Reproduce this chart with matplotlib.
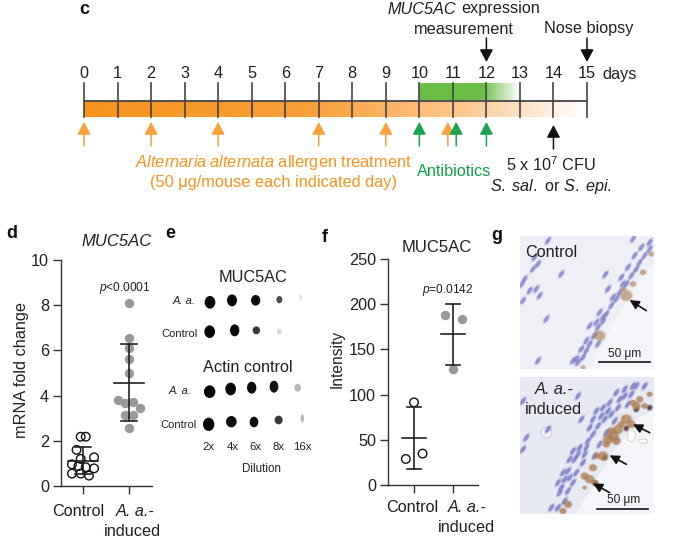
#!/usr/bin/env python3
"""MUC5AC figure: timeline (c), dot plots (d, f), dot blot (e), histology sketch (g)."""
import numpy as np
import matplotlib
matplotlib.use("Agg")
import matplotlib.pyplot as plt
from matplotlib.colors import LinearSegmentedColormap
from matplotlib.patches import Ellipse, Polygon, Rectangle

plt.rcParams["font.family"] = ["Liberation Sans", "DejaVu Sans"]
plt.rcParams["mathtext.fontset"] = "custom"
plt.rcParams["mathtext.rm"] = "Liberation Sans"
plt.rcParams["mathtext.it"] = "Liberation Sans:italic"
plt.rcParams["mathtext.bf"] = "Liberation Sans:bold"

W, H = 699, 541
ORANGE = "#f7941d"
GREEN = "#0fa14b"
TEXT = "#231f20"

# timeline
days = list(range(16))
allergen_days = [0, 2, 4, 7, 9, 10.85]
antibiotic_days = [10, 11.1, 12]
bacteria_days = [14]
measure_days = [12, 15]

# panel d
d_ctrl_off = [-0.05, 0.06, -0.14, 0.24, -0.05, -0.24, -0.10, 0.06, 0.24, -0.24, -0.05, 0.13]
d_ctrl = [2.18, 2.18, 1.60, 1.27, 1.20, 0.96, 0.88, 0.83, 0.78, 0.55, 0.55, 0.46]
d_ind_off = [0, 0, 0, 0, 0, -0.24, -0.08, 0.08, 0.24, -0.08, 0.08, 0]
d_ind = [8.08, 6.55, 6.10, 5.60, 5.00, 3.80, 3.67, 3.70, 3.44, 3.15, 3.13, 2.58]
d_means = [1.12, 4.55]
d_upper = [1.72, 6.27]
d_lower = [0.55, 2.87]

# panel f
f_ctrl_off = [0.0, -0.21, 0.22]
f_ctrl = [91.4, 28.8, 34.7]
f_ind_off = [-0.21, 0.22, 0.0]
f_ind = [188, 183.6, 128]
f_means = [52, 167]
f_upper = [86, 200]
f_lower = [17.5, 133]

# panel e: spot (x, y, width, height, grey level) in crop coordinates
blot_spots = [
    (150, 247, 32, 38, 0.02), (216, 241, 30, 36, 0.03), (287, 241, 28, 32, 0.05),
    (358, 239, 18, 22, 0.30), (422, 232, 8, 22, 0.90),
    (149, 335, 32, 38, 0.03), (224, 331, 28, 36, 0.04), (289, 331, 22, 24, 0.22),
    (358, 335, 14, 18, 0.85),
    (149, 515, 34, 38, 0.02), (212, 507, 32, 38, 0.03), (275, 503, 28, 36, 0.05),
    (342, 500, 26, 36, 0.07), (413, 503, 20, 24, 0.72),
    (146, 613, 34, 40, 0.02), (214, 605, 32, 34, 0.04), (282, 606, 26, 32, 0.05),
    (356, 600, 24, 26, 0.22), (427, 595, 10, 24, 0.72),
]
blot_rows = [("A. a.", 72, 243, True), ("Control", 57, 343, False),
             ("A. a.", 60, 513, True), ("Control", 55, 615, False)]
dilutions = ["2x", "4x", "6x", "8x", "16x"]
dilution_x = [144, 218, 285, 356, 428]

# panel g: cells picked off the two micrographs, crop coordinates
g1_blue = [(180, 385), (195, 370), (205, 350), (215, 330), (228, 305), (240, 280), (255, 262),
           (265, 240), (280, 215), (295, 195), (305, 175), (325, 150), (340, 125), (355, 105),
           (365, 85), (380, 65), (395, 45), (370, 40), (350, 65), (330, 100), (310, 130),
           (270, 165), (245, 235), (215, 275), (190, 345), (165, 380), (395, 25), (345, 15),
           (60, 90), (45, 105), (20, 135), (35, 170), (55, 165), (15, 200), (65, 185),
           (85, 255), (60, 380), (130, 120), (262, 122), (50, 70), (90, 20), (240, 330),
           (285, 190), (255, 250), (235, 265), (205, 320), (175, 375), (315, 150), (12, 150)]
g1_brown = [(325, 185, 34), (245, 305, 32), (195, 400, 14), (375, 115, 18),
            (400, 60, 16), (345, 150, 18), (318, 165, 14)]
g2_blue = [(120, 395), (140, 375), (125, 350), (150, 345), (120, 320), (140, 310), (165, 320),
           (175, 290), (150, 285), (195, 260), (170, 250), (200, 235), (185, 215), (165, 225),
           (210, 195), (225, 175), (215, 155), (240, 150), (260, 130), (235, 105), (255, 95),
           (280, 115), (300, 95), (275, 80), (305, 70), (330, 85), (340, 55), (320, 40),
           (355, 30), (290, 135), (265, 170), (245, 205), (380, 30), (295, 50), (15, 75),
           (25, 185), (15, 220), (90, 160), (180, 60), (230, 240), (190, 130), (155, 250),
           (130, 335), (100, 395), (205, 215), (250, 120), (320, 60), (180, 235), (135, 290),
           (270, 105), (345, 30), (225, 130), (155, 305)]
g2_brown = [(325, 130, 30), (340, 145, 24), (300, 160, 28), (285, 180, 32), (270, 190, 28),
            (295, 195, 24), (265, 205, 20), (255, 240, 28), (235, 240, 18), (225, 275, 22),
            (200, 300, 22), (215, 310, 26), (230, 320, 18), (150, 385, 22), (135, 405, 20),
            (355, 90, 24), (380, 90, 18), (395, 55, 16), (365, 70, 20), (200, 335, 12),
            (280, 165, 22), (310, 145, 20), (345, 80, 18)]
g2_dark = [(325, 157), (260, 245), (232, 322), (395, 95), (355, 100)]


def px_axes(fig, left, top, right, bottom):
    return fig.add_axes([left / W, 1 - bottom / H, (right - left) / W, (bottom - top) / H])


def label(ax, x, y, s, size=11.7, color=TEXT, **kw):
    ax.text(x, y, s, fontsize=size, color=color, ha=kw.pop("ha", "center"), va="center", **kw)


def arrow(ax, x, y0, y1, color):
    ax.annotate("", xy=(x, y1), xytext=(x, y0),
                arrowprops=dict(arrowstyle="-|>,head_length=0.75,head_width=0.4",
                                mutation_scale=10, color=color, lw=1.1,
                                shrinkA=0, shrinkB=0))


def gradient(ax, stops, extent):
    cmap = LinearSegmentedColormap.from_list("fade", stops)
    ax.imshow(np.linspace(0, 1, 256)[None, :], cmap=cmap, extent=extent, aspect="auto", zorder=1)


def dot_panel(ax, ctrl_off, ctrl, ind_off, ind, means, upper, lower, ylim, yticks):
    ax.patch.set_alpha(0)
    for i in range(2):
        ax.plot([i, i], [lower[i], upper[i]], color="#222222", lw=1.2, zorder=4)
        ax.plot([i - 0.18, i + 0.18], [upper[i]] * 2, color="#222222", lw=1.2, zorder=4)
        ax.plot([i - 0.18, i + 0.18], [lower[i]] * 2, color="#222222", lw=1.2, zorder=4)
        ax.plot([i - 0.32, i + 0.32], [means[i]] * 2, color="#222222", lw=1.2, zorder=4)
    ax.scatter(np.array(ctrl_off), ctrl, s=38, facecolor="none", edgecolor="#111111",
               linewidth=1.0, zorder=3)
    ax.scatter(np.array(ind_off) + 1, ind, s=46, color="#999999", linewidth=0, zorder=3)
    ax.set_ylim(*ylim)
    ax.set_yticks(yticks)
    ax.set_xticks([0, 1])
    ax.set_xticklabels([])
    ax.tick_params(length=5.5, width=1.0, color="#333333", labelsize=11.7, labelcolor=TEXT, pad=3)
    for side in ("top", "right"):
        ax.spines[side].set_visible(False)
    for side in ("left", "bottom"):
        ax.spines[side].set_linewidth(1.0)
        ax.spines[side].set_color("#333333")


def cells(ax, points, ox, oy, clip, color, w=8, h=3.6, angle=-55, alpha=0.8):
    for x, y in points:
        for scale, a in ((1.5, alpha * 0.3), (1.0, alpha)):
            e = Ellipse((ox + x / 3, oy + y / 3), w * scale, h * scale, angle=angle, color=color,
                        alpha=a, linewidth=0, zorder=3)
            ax.add_patch(e)
            e.set_clip_path(clip)


def brown_cells(ax, points, ox, oy, clip, strength=0.7):
    for x, y, d in points:
        for scale, a in ((1.3, strength * 0.4), (1.0, strength)):
            e = Ellipse((ox + x / 3, oy + y / 3), scale * d / 3, scale * d / 3.4, color="#ad7c50",
                        alpha=a, linewidth=0, zorder=4)
            ax.add_patch(e)
            e.set_clip_path(clip)


fig = plt.figure(figsize=(W / 100, H / 100), dpi=100, facecolor="white")
bg = fig.add_axes([0, 0, 1, 1])
bg.set_xlim(0, W)
bg.set_ylim(H, 0)
bg.axis("off")

# ---- c: timeline
x0, day_w = 84, (587 - 84) / 15
day_x = lambda d: x0 + d * day_w
gradient(bg, [(0, ORANGE), (0.45, "#f8a03a"), (0.75, "#fdc78e"), (1, "#ffffff")],
         (day_x(0), day_x(15), 117, 101))
gradient(bg, [(0, "#6abd45"), (0.62, "#6abd45"), (1, "#ffffff")],
         (day_x(10), day_x(13), 100, 83))
bg.plot([day_x(0), day_x(15)], [100.5, 100.5], color="#444444", lw=1.3, zorder=2)
for d in days:
    bg.plot([day_x(d)] * 2, [83, 117], color="#444444", lw=1.2, zorder=2)
    label(bg, day_x(d), 74, str(d))
label(bg, 602, 74, "days", ha="left")
label(bg, 84.5, 9, "c", size=13, fontweight="bold", color="#111111")

for d in allergen_days:
    arrow(bg, day_x(d), 146, 122, "#f9a13a")
for d in antibiotic_days:
    arrow(bg, day_x(d), 146, 122, "#19a551")
for d in bacteria_days:
    arrow(bg, day_x(d), 149, 125, "#111111")
for d in measure_days:
    arrow(bg, day_x(d), 38, 62, "#111111")

label(bg, 273.5, 163, r"$\mathit{Alternaria\;alternata}$ allergen treatment", size=11.8, color="#f7941d")
label(bg, 273, 183, "(50 \u03bcg/mouse each indicated day)", size=11.8, color="#f7941d")
label(bg, 454, 172, "Antibiotics", color=GREEN)
label(bg, 551, 165, r"5 x 10$^{7}$ CFU")
label(bg, 551, 186, r"$\mathit{S.\;sal.}$ or $\mathit{S.\;epi.}$")
label(bg, 387, 9, "MUC5AC", style="italic", ha="left")
label(bg, 461, 9, "expression", ha="left")
label(bg, 464, 29, "measurement")
label(bg, 589, 29, "Nose biopsy")

# ---- d
ax_d = px_axes(fig, 61, 260, 152, 486)
dot_panel(ax_d, d_ctrl_off, d_ctrl, d_ind_off, d_ind, d_means, d_upper, d_lower,
          (0, 10), [0, 2, 4, 6, 8, 10])
ax_d.set_xlim(-22 / 46, 1 + 23 / 46)
label(bg, 12, 233, "d", size=13, fontweight="bold", color="#111111")
label(bg, 117, 242, "MUC5AC", size=12, style="italic")
label(bg, 125, 288, r"$\mathit{p}$<0.0001", size=8.6)
label(bg, 22, 370, "mRNA fold change", rotation=90)
label(bg, 78, 512, "Control")
label(bg, 135, 512, "A. a.-", style="italic")
label(bg, 132, 532, "induced")

# ---- e
label(bg, 170, 233, "e", size=13, fontweight="bold", color="#111111")
for x, y, w, h, grey in blot_spots:
    bg.add_patch(Ellipse((160 + x / 3, 220 + y / 3), w / 3, h / 3, color=str(grey),
                         linewidth=0, zorder=2))
label(bg, 160 + 280 / 3, 220 + 172 / 3, "MUC5AC")
label(bg, 160 + 263 / 3, 220 + 441 / 3, "Actin control")
for name, x, y, ital in blot_rows:
    label(bg, 160 + x / 3, 220 + y / 3, name, size=8, style="italic" if ital else "normal")
for name, x in zip(dilutions, dilution_x):
    label(bg, 160 + x / 3, 220 + 680 / 3, name, size=8.2)
label(bg, 160 + 305 / 3, 220 + 748 / 3, "Dilution", size=8.4)

# ---- f
ax_f = px_axes(fig, 388, 259, 478, 485)
dot_panel(ax_f, f_ctrl_off, f_ctrl, f_ind_off, f_ind, f_means, f_upper, f_lower,
          (0, 250), [0, 50, 100, 150, 200, 250])
ax_f.set_xlim(-26 / 39, 1 + 25 / 39)
label(bg, 325, 237, "f", size=13, fontweight="bold", color="#111111")
label(bg, 437, 247, "MUC5AC", size=12)
label(bg, 448, 290, r"$\mathit{p}$=0.0142", size=8.6)
label(bg, 337, 359, "Intensity", size=11.2, rotation=90)
label(bg, 412, 507, "Control")
label(bg, 467, 507, "A. a.-", style="italic")
label(bg, 466, 527, "induced")

# ---- g: micrographs
label(bg, 497, 235, "g", size=13, fontweight="bold", color="#111111")
rect1 = Rectangle((520, 236), 134, 133, facecolor="#eff0f6", edgecolor="none", zorder=1)
rect2 = Rectangle((520, 377), 134, 137, facecolor="#e8eaf3", edgecolor="none", zorder=1)
bg.add_patch(rect1)
bg.add_patch(rect2)

# pale lumen on the lower right of each section
lumen1 = Polygon([(654, 262), (654, 369), (590, 369), (610, 330), (632, 290)],
                 facecolor="#f4f5f8", edgecolor="none", zorder=2)
lumen2 = Polygon([(654, 410), (654, 514), (575, 514), (590, 490), (615, 450), (635, 420)],
                 facecolor="#f4f5f8", edgecolor="none", zorder=2)
bg.add_patch(lumen1)
bg.add_patch(lumen2)
cells(bg, g1_blue, 518, 234, rect1, "#8385cd")
brown_cells(bg, g1_brown, 518, 234, rect1, strength=0.5)

cells(bg, g2_blue, 518, 376, rect2, "#7b7dc8")
brown_cells(bg, g2_brown, 518, 376, rect2)
cells(bg, g2_dark, 518, 376, rect2, "#5a4048", w=5, h=4.5, alpha=0.9)
ring = Ellipse((518 + 85 / 3, 376 + 170 / 3), 11, 11, facecolor="#f4f5f8", edgecolor="#c9cbd8",
               linewidth=0.8, zorder=2)
bg.add_patch(ring)
for x, y, w, h in [(340, 180, 24, 34), (375, 195, 28, 12)]:
    bg.add_patch(Ellipse((518 + x / 3, 376 + y / 3), w / 3, h / 3, facecolor="white",
                         edgecolor="#d8d6c4", linewidth=0.8, zorder=4))


def head_arrow(ox, oy, x0_, y0_, x1_, y1_):
    bg.annotate("", xy=(ox + x1_ / 3, oy + y1_ / 3), xytext=(ox + x0_ / 3, oy + y0_ / 3),
                arrowprops=dict(arrowstyle="-|>,head_length=0.5,head_width=0.25", mutation_scale=11,
                                color="#111111", lw=1.2, shrinkA=0, shrinkB=0), zorder=6)


head_arrow(518, 234, 385, 230, 335, 198)
head_arrow(518, 376, 395, 170, 345, 145)
head_arrow(518, 376, 325, 265, 275, 238)
head_arrow(518, 376, 275, 350, 225, 322)

bg.plot([518 + 243 / 3, 518 + 397 / 3], [234 + 385 / 3] * 2, color="#111111", lw=1.2, zorder=6)
bg.plot([518 + 238 / 3, 518 + 390 / 3], [376 + 398 / 3] * 2, color="#111111", lw=1.2, zorder=6)
for x, y, s, kw in [
    (518 + 320 / 3, 234 + 360 / 3, "50 \u03bcm", dict(fontsize=8.6)),
    (518 + 318 / 3, 376 + 372 / 3, "50 \u03bcm", dict(fontsize=8.6)),
    (518 + 100 / 3, 234 + 55 / 3, "Control", dict(fontsize=11.7)),
    (518 + 110 / 3, 376 + 40 / 3, "A. a.-", dict(fontsize=11.7, style="italic")),
    (518 + 105 / 3, 376 + 100 / 3, "induced", dict(fontsize=11.7)),
]:
    bg.text(x, y, s, color=TEXT, ha="center", va="center", zorder=7, **kw)

# imshow resets limits
bg.set_xlim(0, W)
bg.set_ylim(H, 0)

fig.savefig("out.png", dpi=100)
